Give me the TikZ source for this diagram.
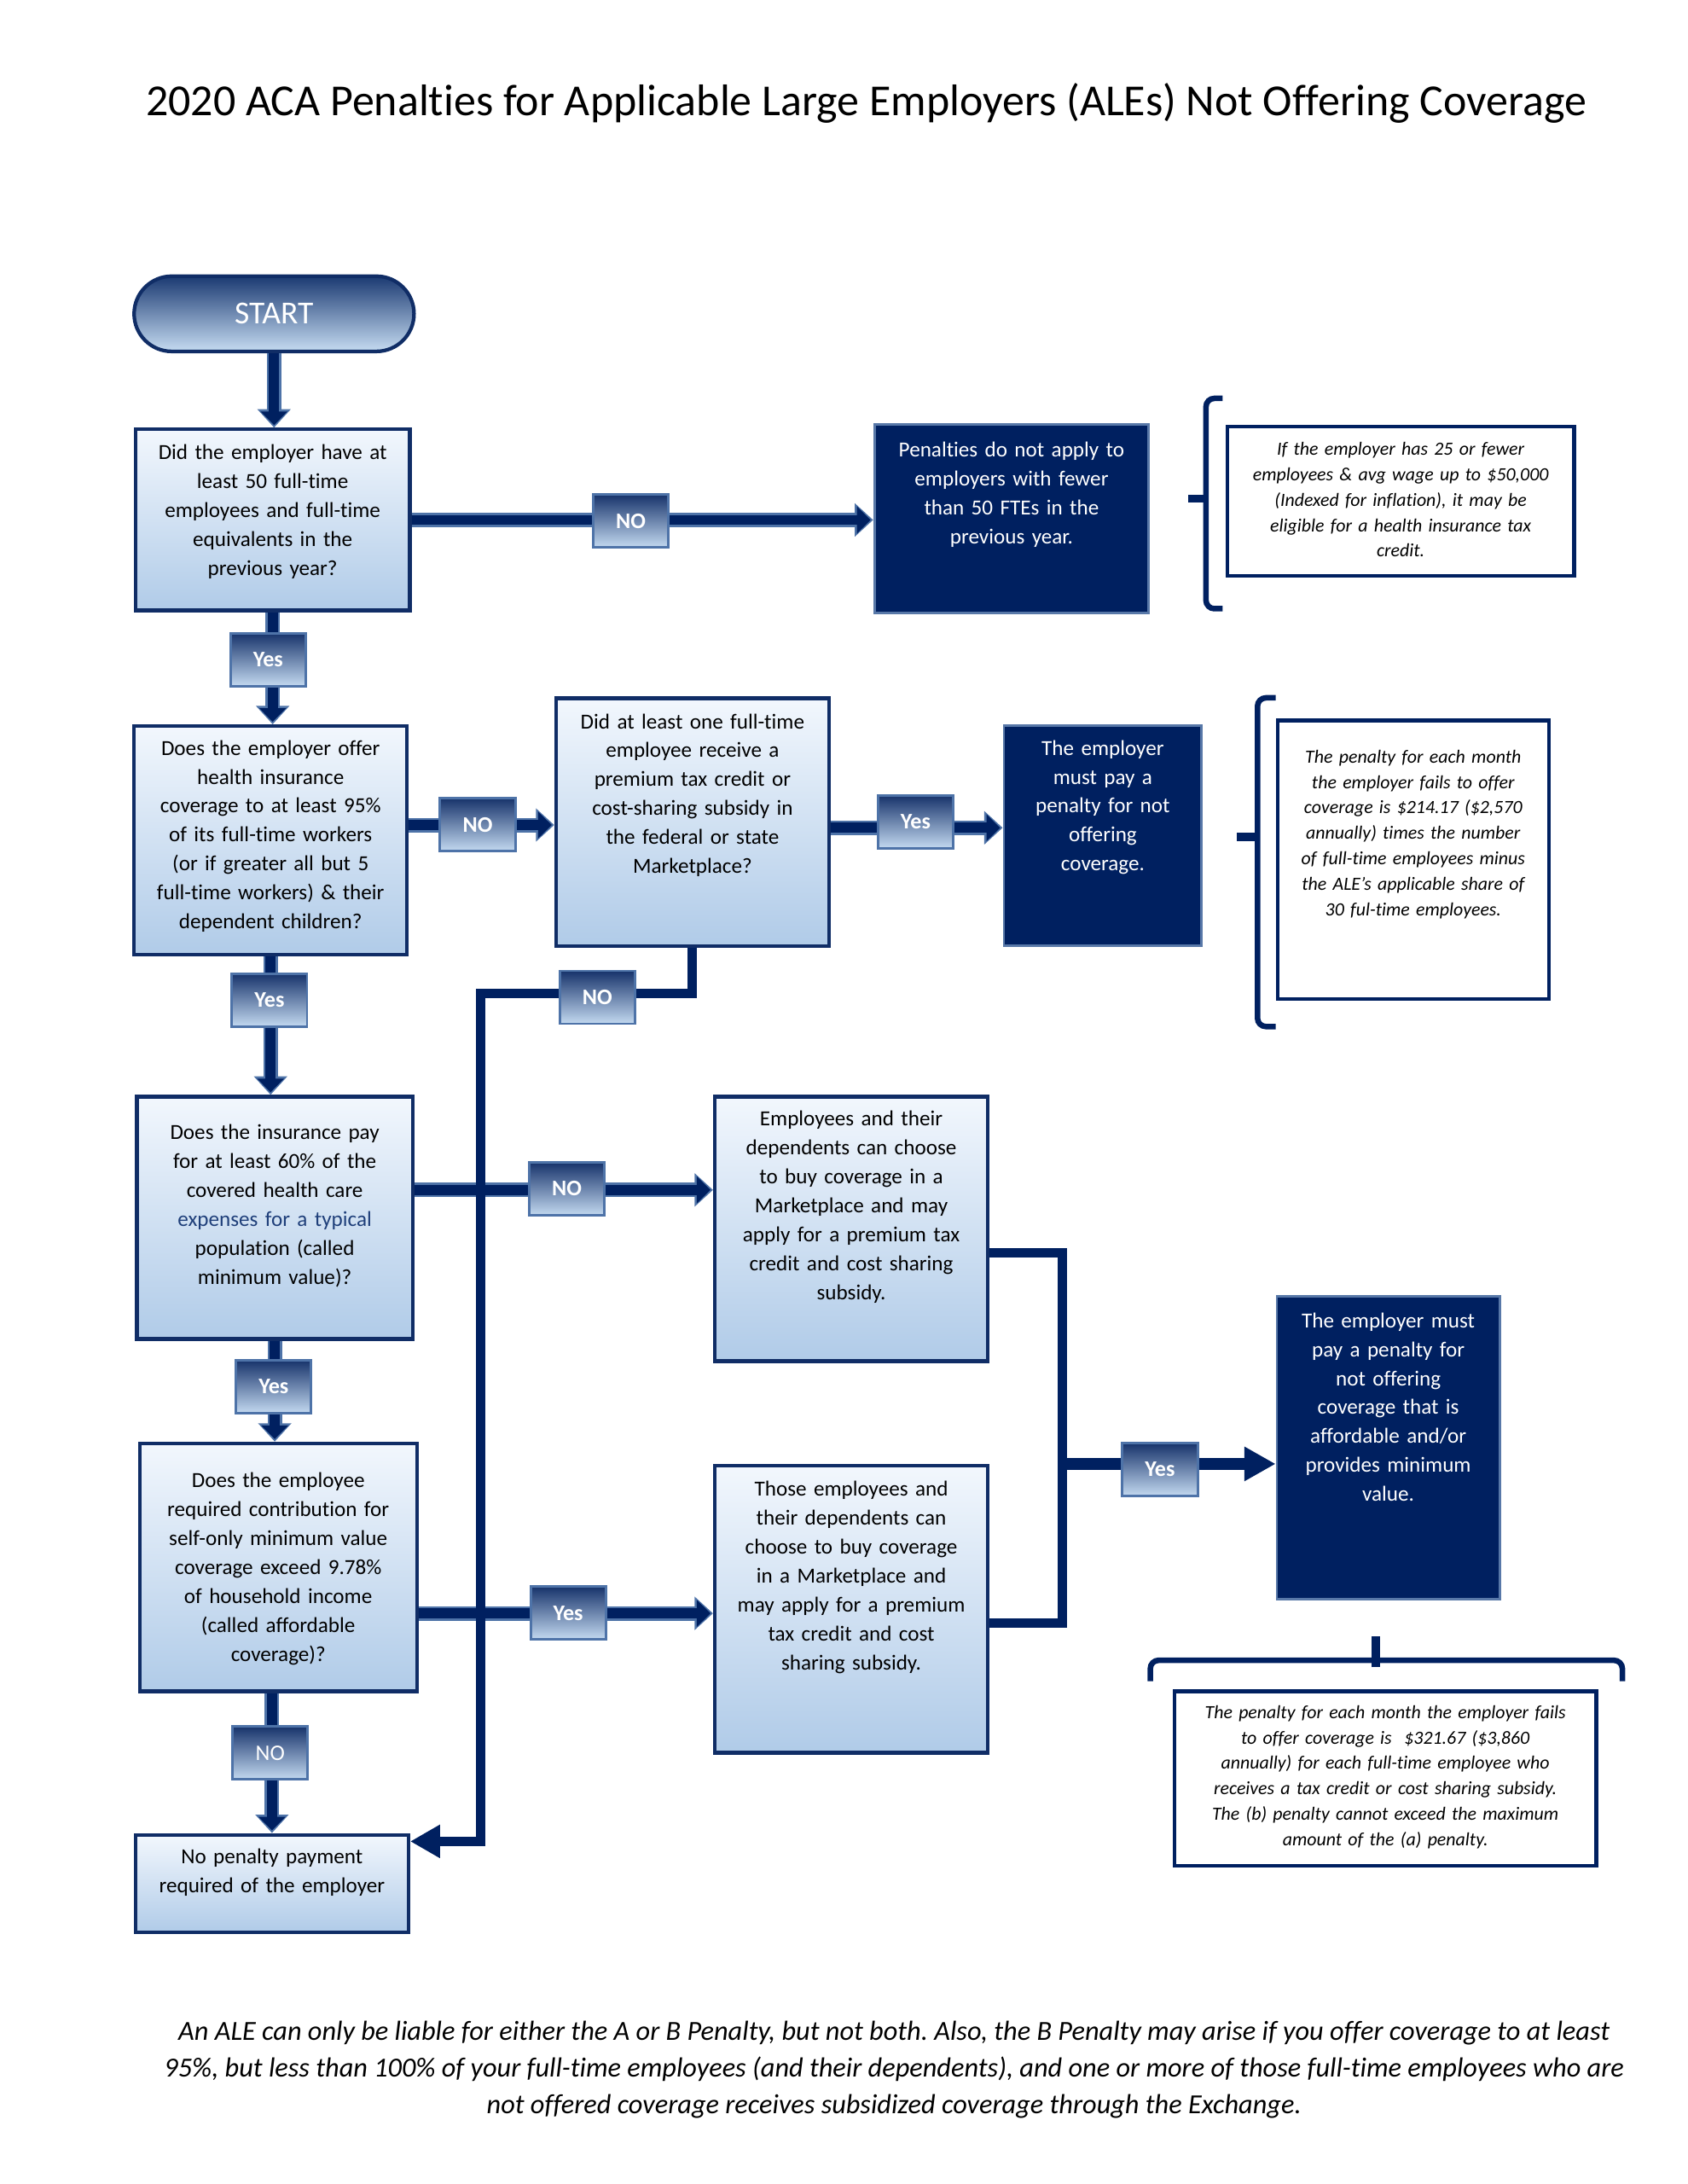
\documentclass[tikz,border=0pt]{standalone}
\usepackage{fontspec}
\setmainfont{Carlito}[Ligatures=NoCommon]
\usetikzlibrary{arrows.meta,calc}
\definecolor{navy}{HTML}{002060}
\definecolor{boxedge}{HTML}{102D66}
\definecolor{boxtop}{HTML}{F2F7FD}
\definecolor{boxbot}{HTML}{B0CBE8}
\definecolor{labtop}{HTML}{17336B}
\definecolor{labbot}{HTML}{C3D9F0}
\definecolor{labedge}{HTML}{4E73A8}
\definecolor{edgeblue}{HTML}{4E73A8}
\definecolor{darkedge}{HTML}{5878A8}
\definecolor{linkblue}{HTML}{1F3F7A}
\definecolor{starttop}{HTML}{1B3A72}
\definecolor{startbot}{HTML}{C6DCF2}
\frenchspacing
\begin{document}
\begin{tikzpicture}[x=0.5pt,y=-0.5pt,
  qbox/.style={rectangle, draw=boxedge, line width=1.3pt, top color=boxtop, bottom color=boxbot, anchor=north west, inner sep=0pt},
  dbox/.style={rectangle, draw=darkedge, line width=0.9pt, fill=navy, anchor=north west, inner sep=0pt},
  nbox/.style={rectangle, draw=navy, line width=1.3pt, fill=white, anchor=north west, inner sep=0pt},
  startbox/.style={rectangle, rounded corners=13.5pt, draw=boxedge, line width=1.3pt, top color=starttop, bottom color=startbot, anchor=north west, inner sep=0pt, text=white, font=\fontsize{11.5}{13}\selectfont},
  txt/.style={anchor=north, inner sep=0pt, align=center, font=\fontsize{7.7}{10.4}\selectfont},
  wtxt/.style={txt, text=white},
  itxt/.style={anchor=north, inner sep=0pt, align=center, font=\itshape\fontsize{6.7}{9.15}\selectfont},
  lab/.style={rectangle, draw=labedge, line width=0.9pt, top color=labtop, bottom color=labbot, minimum width=27pt, minimum height=19pt, inner sep=0pt, text=white, font=\bfseries\fontsize{8}{9}\selectfont},
  flow/.style={draw=navy, line width=3.6pt, shorten >=0.9pt, -{Triangle[width=9.4pt,length=4.9pt]},
    preaction={draw=edgeblue, line width=5.2pt, shorten >=0pt, -{Triangle[width=11.6pt,length=6.6pt]}}},
  elbow/.style={draw=navy, line width=3.4pt},
  elbowarr/.style={elbow, -{Triangle[width=11.3pt,length=10.7pt]}},
  bigarr/.style={draw=navy, line width=4.1pt, -{Triangle[width=11.6pt,length=11.2pt]}},
  brk/.style={draw=navy, line width=2pt, rounded corners=3pt},
  nub/.style={draw=navy, line width=3pt}
]
\useasboundingbox (0,0) rectangle (1212,1568);

% title
\node[font=\fontsize{15.9}{19}\selectfont, inner sep=0pt] (title) at (622,74) {2020 ACA Penalties for Applicable Large Employers (ALEs) Not Offering Coverage};

% boxes
\node[startbox, minimum width=100.5pt, minimum height=27pt] (start) at (95,197) {START};

\node[qbox, minimum width=98.5pt, minimum height=65pt,
  label={[txt, text width=98pt, yshift=-6pt]north:{Did the employer have at\\least 50 full-time\\employees and full-time\\equivalents in the\\previous year?}}] (b1) at (96,307) {};

\node[dbox, minimum width=98.5pt, minimum height=67.5pt,
  label={[wtxt, text width=98pt, yshift=-6.5pt]north:{Penalties do not apply to\\employers with fewer\\than 50 FTEs in the\\previous year.}}] (d1) at (627,304) {};

\node[nbox, minimum width=124.5pt, minimum height=53.5pt,
  label={[itxt, text width=124pt, yshift=-6pt]north:{If the employer has 25 or fewer\\employees \& avg wage up to \$50,000\\(Indexed for inflation), it may be\\eligible for a health insurance tax\\credit.}}] (n1) at (880,305) {};

\node[qbox, minimum width=98pt, minimum height=82pt,
  label={[txt, text width=98pt, yshift=-5.5pt]north:{Does the employer offer\\health insurance\\coverage to at least 95\%\\of its full-time workers\\(or if greater all but 5\\full-time workers) \& their\\dependent children?}}] (b2) at (95,520) {};

\node[qbox, minimum width=98pt, minimum height=89pt,
  label={[txt, text width=98pt, yshift=-6pt]north:{Did at least one full-time\\employee receive a\\premium tax credit or\\cost-sharing subsidy in\\the federal or state\\Marketplace?}}] (b3) at (398,500) {};

\node[dbox, minimum width=71pt, minimum height=79pt,
  label={[wtxt, text width=71pt, yshift=-5.5pt]north:{The employer\\must pay a\\penalty for not\\offering\\coverage.}}] (d2) at (720,520) {};

\node[nbox, minimum width=97.5pt, minimum height=100pt,
  label={[itxt, text width=97pt, yshift=-11pt]north:{The penalty for each month\\the employer fails to offer\\coverage is \$214.17 (\$2,570\\annually) times the number\\of full-time employees minus\\the ALE{\char39}s applicable share of\\30 ful-time employees.}}] (n2) at (916,516) {};

\node[qbox, minimum width=99pt, minimum height=87pt,
  label={[txt, text width=99pt, yshift=-10.5pt]north:{Does the insurance pay\\for at least 60\% of the\\covered health care\\\textcolor{linkblue}{expenses for a typical}\\population (called\\minimum value)?}}] (b4) at (97,786) {};

\node[qbox, minimum width=98pt, minimum height=95pt,
  label={[txt, text width=98pt, yshift=-5.5pt]north:{Employees and their\\dependents can choose\\to buy coverage in a\\Marketplace and may\\apply for a premium tax\\credit and cost sharing\\subsidy.}}] (b5) at (512,786) {};

\node[dbox, minimum width=80pt, minimum height=108.5pt,
  label={[wtxt, text width=80pt, yshift=-6pt]north:{The employer must\\pay a penalty for\\not offering\\coverage that is\\affordable and/or\\provides minimum\\value.}}] (d3) at (916,930) {};

\node[qbox, minimum width=99.5pt, minimum height=89pt,
  label={[txt, text width=99pt, yshift=-11pt]north:{Does the employee\\required contribution for\\self-only minimum value\\coverage exceed 9.78\%\\of household income\\(called affordable\\coverage)?}}] (b6) at (99,1035) {};

\node[qbox, minimum width=98pt, minimum height=103pt,
  label={[txt, text width=98pt, yshift=-6pt]north:{Those employees and\\their dependents can\\choose to buy coverage\\in a Marketplace and\\may apply for a premium\\tax credit and cost\\sharing subsidy.}}] (b7) at (512,1051) {};

\node[qbox, minimum width=98pt, minimum height=35pt,
  label={[txt, text width=98pt, yshift=-5.5pt]north:{No penalty payment\\required of the employer}}] (b8) at (96,1316) {};

\node[nbox, minimum width=151.5pt, minimum height=62.5pt,
  label={[itxt, text width=151pt, yshift=-5.5pt]north:{The penalty for each month the employer fails\\to offer coverage is\ \ \$321.67 (\$3,860\\annually) for each full-time employee who\\receives a tax credit or cost sharing subsidy.\\The (b) penalty cannot exceed the maximum\\amount of the (a) penalty.}}] (n3) at (842,1213) {};

% connection points
\coordinate (j1) at (345,713);
\coordinate (j2) at (763,1051);
\coordinate (c2) at ($(b2.east)+(0,-11)$);
\coordinate (c3) at ($(b3.east)+(0,4)$);
\coordinate (c4) at ($(b4.east)+(0,-20)$);
\coordinate (c6) at ($(b6.east)+(0,33)$);
\coordinate (c8) at ($(b8.north east)+(0,6)$);
\coordinate (c5) at ($(b5.east)+(0,17)$);
\coordinate (c7) at ($(b7.east)+(0,10)$);

% straight connectors
\draw[flow] (start.south) -- (start.south |- b1.north);
\draw[flow] (b1.east) -- (b1.east -| d1.west);
\draw[flow] (b1.south) -- (b1.south |- b2.north);
\draw[flow] (c2) -- (c2 -| b3.west);
\draw[flow] (c3) -- (c3 -| d2.west);
\draw[flow] (b2.south) -- (b2.south |- b4.north);
\draw[flow] (c4) -- (c4 -| b5.west);
\draw[flow] (b4.south) -- (b4.south |- b6.north);
\draw[flow] (c6) -- (c6 -| b7.west);
\draw[flow] (b8.north |- b6.south) -- (b8.north);

% elbow connectors
\draw[elbowarr] (b3.south) |- (j1) |- (c8);
\draw[elbow] (c5) -| (j2) |- (c7);
\draw[bigarr] (j2) -- (j2 -| d3.west);

% decision labels
\node[lab] (lno1) at (453,374) {NO};
\node[lab] (lyes1) at (192.5,473.5) {Yes};
\node[lab] (lno2) at (343,592) {NO};
\node[lab] (lyes3) at (657.5,590) {Yes};
\node[lab] (lyes2) at (193.5,718) {Yes};
\node[lab] (lno3) at (429,716) {NO};
\node[lab] (lno4) at (407,853.5) {NO};
\node[lab] (lyes4) at (196.5,995.5) {Yes};
\node[lab] (lyes6) at (408,1158) {Yes};
\node[lab] (lyesj) at (833,1055) {Yes};
\node[lab, font=\fontsize{8}{9}\selectfont] (lno6) at (194,1258.5) {NO};

% brackets
\draw[brk] (878,286) -- (866,286) -- (866,437) -- (878,437);
\draw[nub] (867,358) -- (853,358);
\draw[brk] (916,501) -- (903,501) -- (903,737) -- (916,737);
\draw[nub] (904,601) -- (888,601);
\draw[brk] (826,1207) -- (826,1192) -- (1165,1192) -- (1165,1207);
\draw[nub] (988,1197) -- (988,1175);

% footer
\node[font=\itshape\fontsize{9.9}{13.25}\selectfont, align=center, inner sep=0pt] (foot) at (642,1486) {An ALE can only be liable for either the A or B Penalty, but not both. Also, the B Penalty may arise if you offer coverage to at least\\95\%, but less than 100\% of your full-time employees (and their dependents), and one or more of those full-time employees who are\\not offered coverage receives subsidized coverage through the Exchange.};
\end{tikzpicture}
\end{document}
